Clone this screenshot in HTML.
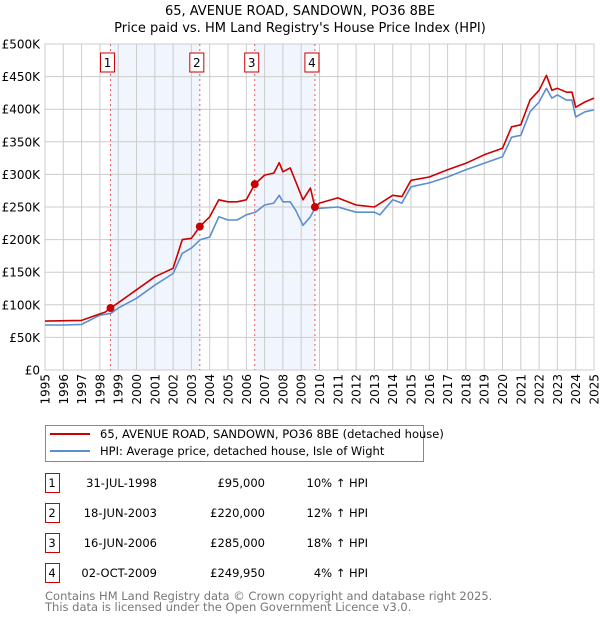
<!DOCTYPE html>
<html><head><meta charset="utf-8"><style>
body{margin:0;background:#fff;font-family:"DejaVu Sans","Liberation Sans",sans-serif;}
svg{display:block}
</style></head><body>
<svg id="c" width="600" height="620" xmlns="http://www.w3.org/2000/svg">
<text x="300" y="15" text-anchor="middle" font-size="13">65, AVENUE ROAD, SANDOWN, PO36 8BE</text>
<text x="300" y="32" text-anchor="middle" font-size="13">Price paid vs. HM Land Registry's House Price Index (HPI)</text>
<g id="plot"></g>
<g>
<rect x="45.5" y="425.5" width="378" height="36" fill="#fff" stroke="#888"/>
<line x1="50" y1="434" x2="90" y2="434" stroke="#cc0000" stroke-width="2"/>
<text x="100" y="438" font-size="11.5">65, AVENUE ROAD, SANDOWN, PO36 8BE (detached house)</text>
<line x1="50" y1="451" x2="90" y2="451" stroke="#5b8fd0" stroke-width="2"/>
<text x="100" y="455" font-size="11.5">HPI: Average price, detached house, Isle of Wight</text>
</g>
<g id="table" font-size="11.5"></g>
<text x="45" y="600" font-size="11.5" fill="#777">Contains HM Land Registry data © Crown copyright and database right 2025.</text>
<text x="45" y="611" font-size="11.5" fill="#777">This data is licensed under the Open Government Licence v3.0.</text>
</svg>
<script>
const hpiYears=[1995,1996,1997,1998,1998.6,1999,2000,2001,2002,2002.5,2003,2003.5,2004,2004.5,2005,2005.5,2006,2006.5,2007,2007.5,2007.8,2008,2008.4,2008.7,2009.1,2009.5,2009.75,2010,2011,2012,2013,2013.3,2014,2014.5,2015,2016,2017,2018,2019,2020,2020.5,2021,2021.5,2022,2022.4,2022.7,2023,2023.5,2023.8,2024,2024.5,2025];
const hpiValues=[69,69,70,84,87,95,110,130,148,179,187,200,204,235,230,230,238,242,253,256,268,258,258,245,222,235,248,248,250,242,242,238,261,256,281,287,296,307,317,327,357,360,396,411,432,417,422,414,414,388,396,399];
const ppYears=[1995,1997,1998.3,1998.58,1999,2000,2001,2002,2002.5,2003,2003.46,2004,2004.5,2005,2005.5,2006,2006.46,2007,2007.5,2007.8,2008,2008.4,2008.7,2009.1,2009.5,2009.75,2010,2011,2012,2013,2014,2014.5,2015,2016,2017,2018,2019,2020,2020.5,2021,2021.5,2022,2022.4,2022.7,2023,2023.5,2023.8,2024,2024.5,2025];
const ppValues=[75,76,89,95,103,123,143,156,200,202,220,235,261,258,258,261,285,299,302,318,304,310,289,261,279,250,256,264,253,250,268,266,291,296,307,317,330,340,373,376,414,429,452,429,432,426,426,403,411,417];
const saleNums=["1","2","3","4"];
const saleYears=[1998.58,2003.46,2006.46,2009.75];
const saleValues=[95,220,285,249.95];
const saleDates=["31-JUL-1998","18-JUN-2003","16-JUN-2006","02-OCT-2009"];
const salePrices=["£95,000","£220,000","£285,000","£249,950"];
const saleHpi=["10% ↑ HPI","12% ↑ HPI","18% ↑ HPI","4% ↑ HPI"];
const yTicks=[0,50,100,150,200,250,300,350,400,450,500];
const yTickLabels=["£0","£50K","£100K","£150K","£200K","£250K","£300K","£350K","£400K","£450K","£500K"];
const xTicks=[];for(let y=1995;y<=2025;y++)xTicks.push(y);

const NS="http://www.w3.org/2000/svg";
const X0=45,X1=594,Y0=370,Y1=44;
const xs=v=>X0+(v-1995)/30*(X1-X0);
const ys=v=>Y0-v/500*(Y0-Y1);
const plot=document.getElementById('plot');
function mk(t,a,p){const e=document.createElementNS(NS,t);for(const k in a)e.setAttribute(k,a[k]);(p||plot).appendChild(e);return e;}
// shading
for(let i=0;i<4;i+=2){
 const r=mk('rect',{x:xs(saleYears[i]),y:Y1,width:xs(saleYears[i+1])-xs(saleYears[i]),height:Y0-Y1,fill:'#eef3fc',opacity:0.8});
 
 
}
// grid
yTicks.forEach((t,i)=>{
 const l=mk('line',{x1:X0,x2:X1,y1:ys(t),y2:ys(t),stroke:'#ccc','stroke-width':1});
 
 
 const tx=mk('text',{x:40,y:ys(t)+4.5,'text-anchor':'end','font-size':12});
 tx.textContent=yTickLabels[i];
 
 
});
xTicks.forEach(t=>{
 const l=mk('line',{x1:xs(t),x2:xs(t),y1:Y1,y2:Y0,stroke:'#ccc','stroke-width':1});
 
 
 const tx=mk('text',{x:0,y:0,'text-anchor':'end','font-size':12,transform:`translate(${xs(t)+4.5},374) rotate(-90)`});
 tx.textContent=t;
 
 
});
mk('rect',{x:X0,y:Y1,width:X1-X0,height:Y0-Y1,fill:'none',stroke:'#ccc'});
// sale lines and boxes
saleYears.forEach((y,i)=>{
 const l=mk('line',{x1:xs(y),x2:xs(y),y1:Y1,y2:Y0,stroke:'#e06060','stroke-width':1,'stroke-dasharray':'2,3'});
 
 
 const b=mk('rect',{x:xs(y)-10,y:53,width:14,height:19,fill:'#fff',stroke:'#cc0000'});
 
 
 const t=mk('text',{x:xs(y)-3,y:67,'text-anchor':'middle','font-size':12});
 t.textContent=saleNums[i];
 
 
});
function path(xa,va,col,name){
 const d=xa.map((x,i)=>(i?'L':'M')+xs(x).toFixed(1)+','+ys(va[i]).toFixed(1)).join('');
 const p=mk('path',{d:d,fill:'none',stroke:col,'stroke-width':1.6,'stroke-linejoin':'round'});
 
 
}
path(hpiYears,hpiValues,'#5b8fd0','hpi-line');
path(ppYears,ppValues,'#cc0000','price-paid-line');
saleYears.forEach((y,i)=>{
 const c=mk('circle',{cx:xs(y),cy:ys(saleValues[i]),r:4,fill:'#cc0000'});
 
 
});
// table
const tb=document.getElementById('table');
saleNums.forEach((n,i)=>{
 const yy=483+i*30;
 const b=mk('rect',{x:45.5,y:yy-9.5,width:14,height:19,fill:'#fff',stroke:'#cc0000'},tb);
 
 
 const vals=[[n,52,'middle'],[saleDates[i],157,'end'],[salePrices[i],265,'end'],[saleHpi[i],368,'end']];
 const names=['table-row-number','table-date','table-price','table-hpi-change'];
 vals.forEach((v,j)=>{
  const t=mk('text',{x:v[1],y:yy+4,'text-anchor':v[2]},tb);
  t.textContent=v[0];
  
  
 });
});
</script>
</body></html>
